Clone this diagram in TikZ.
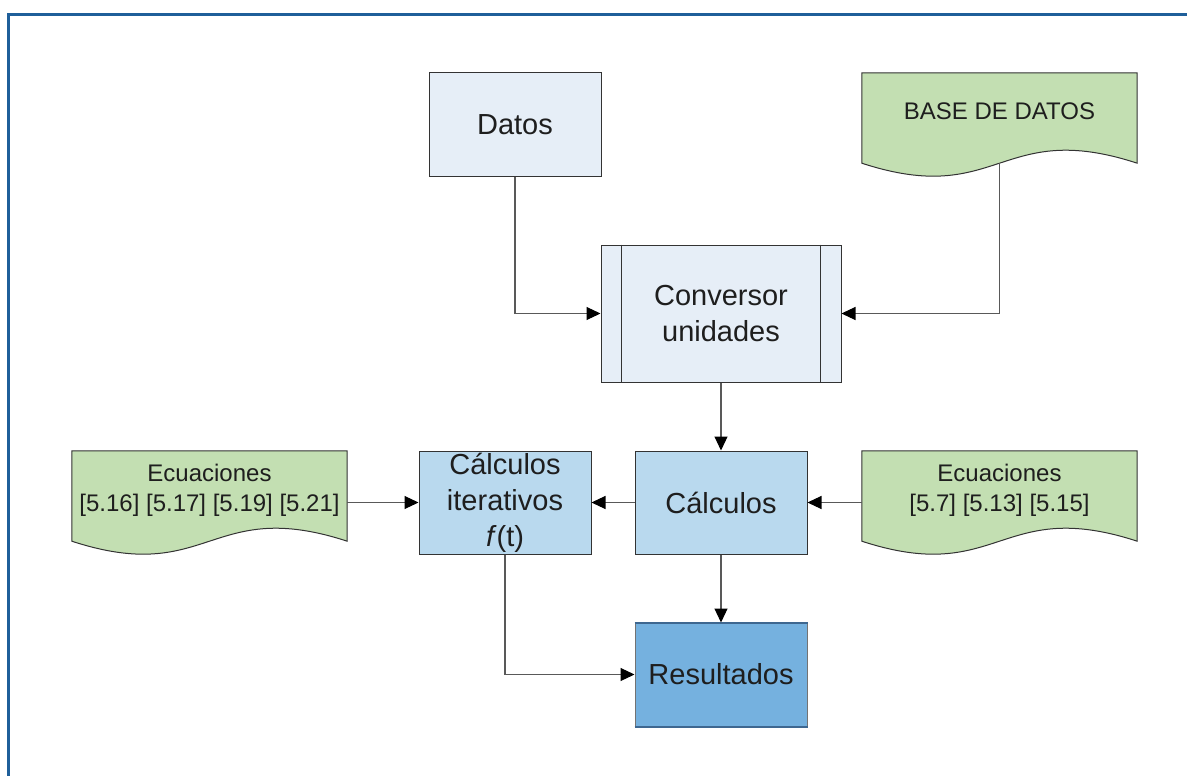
\documentclass[tikz,border=0pt]{standalone}
\usepackage{fontspec}
\setmainfont{Liberation Sans}
\usetikzlibrary{arrows.meta,calc,backgrounds}
\definecolor{framec}{HTML}{1F5F9A}
\definecolor{paleblue}{HTML}{E6EEF7}
\definecolor{midblue}{HTML}{B9D9EE}
\definecolor{darkblue}{HTML}{75B1DF}
\definecolor{resedge}{HTML}{3E6790}
\definecolor{docgreen}{HTML}{C3DFB2}
\definecolor{txt}{HTML}{1E1E1E}
\definecolor{edge}{HTML}{333333}
\begin{document}
\begin{tikzpicture}[x=1pt,y=-1pt,
  box/.style={draw=edge,line width=1pt,inner sep=0pt,text=txt,align=center},
  bigtext/.style={font=\fontsize{29}{36}\selectfont},
  smalltext/.style={font=\fontsize{24}{30}\selectfont,text=txt,align=center},
  docnode/.style={inner sep=0pt,minimum width=275pt,minimum height=90pt},
  docshape/.style={draw=edge,line width=1pt,fill=docgreen},
  arr/.style={draw=black!65,line width=1.1pt,-{Triangle[length=14pt,width=13pt,color=black]}}]
\useasboundingbox (0,0) rectangle (1187,776);
% frame
\draw[framec,line width=2.5pt] (8.5,780) -- (8.5,14.5) -- (1190,14.5);

% boxes
\node[box,bigtext,fill=paleblue,minimum width=172pt,minimum height=103pt] (datos) at (515,124.5) {Datos};
\node[box,bigtext,fill=paleblue,minimum width=240pt,minimum height=137pt] (conv) at (721,313.5) {Conversor\\unidades};
\draw[edge,line width=1pt] ([xshift=21pt]conv.north west) -- ([xshift=21pt]conv.south west);
\draw[edge,line width=1pt] ([xshift=-21pt]conv.north east) -- ([xshift=-21pt]conv.south east);
\node[box,bigtext,fill=midblue,minimum width=172pt,minimum height=103pt] (calc) at (721,502.5) {Cálculos};
\node[box,bigtext,fill=midblue,minimum width=172pt,minimum height=103pt] (iter) at (505,502.5) {Cálculos\\iterativos\\\textit{f}(t)};
\node[box,bigtext,fill=darkblue,draw=black!55,minimum width=172pt,minimum height=103pt] (res) at (721,674.5) {Resultados};
\draw[resedge,line width=2pt] (res.north west) -- (res.north east);
\draw[resedge,line width=2pt] (res.south west) -- (res.south east);

% documents
\node[docnode] (base) at (999.5,118) {};
\node[docnode] (eqL) at (209.5,496) {};
\node[docnode] (eqR) at (999.5,496) {};
\begin{pgfonlayer}{background}
\fill[white] (0,0) rectangle (1187,776);
\foreach \n in {base,eqL,eqR}{
  \draw[docshape] (\n.north west) -- (\n.north east) -- (\n.south east)
    .. controls ($(\n.south)+(0,-45)$) and ($(\n.south)+(0,45)$) .. (\n.south west) -- cycle;
}
\end{pgfonlayer}
\node[smalltext] (baset) at ($(base.center)+(0,-7)$) {BASE DE DATOS};
\node[smalltext] (eqLt) at ($(eqL.center)+(0,-6)$) {Ecuaciones\\{[5.16] [5.17] [5.19] [5.21]}};
\node[smalltext] (eqRt) at ($(eqR.center)+(0,-6)$) {Ecuaciones\\{[5.7] [5.13] [5.15]}};

% connectors
\draw[arr] (datos.south) |- (conv.west);
\draw[arr] (base.south) |- (conv.east);
\draw[arr] (conv.south) -- (calc.north);
\draw[arr] (calc.west) -- (iter.east);
\draw[arr] (calc.east -| eqR.west) -- (calc.east);
\draw[arr] (iter.west -| eqL.east) -- (iter.west);
\draw[arr] (calc.south) -- (res.north);
\draw[arr] (iter.south) |- (res.west);
\end{tikzpicture}
\end{document}
